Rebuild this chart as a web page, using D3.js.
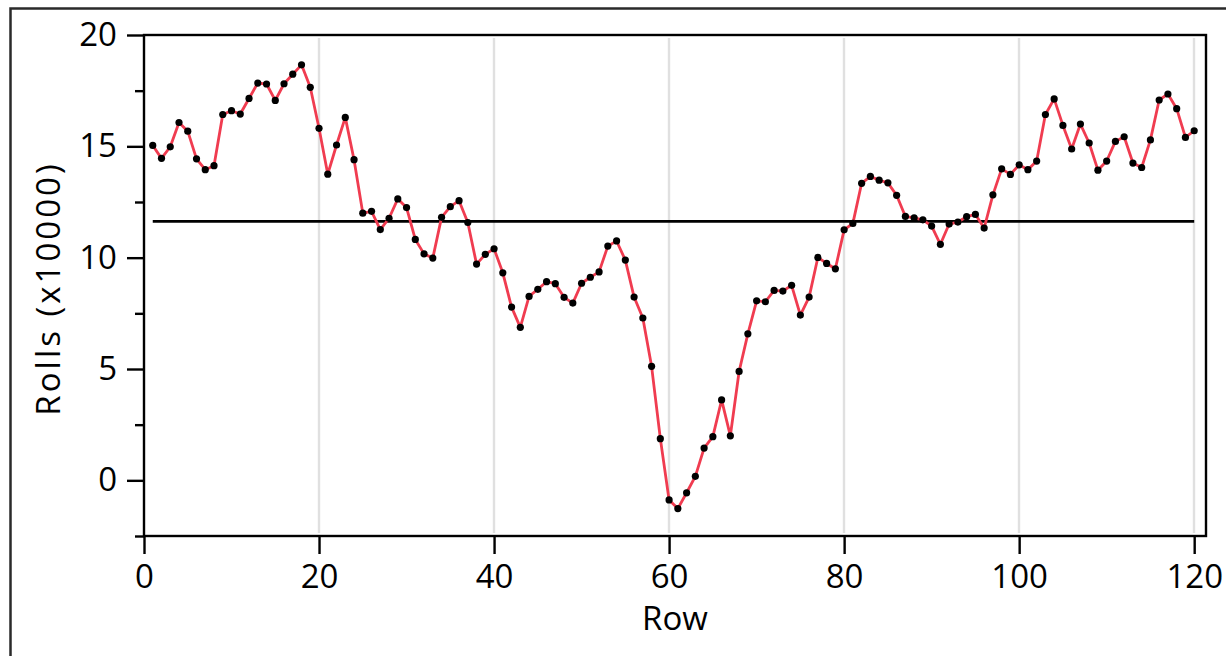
<!DOCTYPE html>
<html>
<head>
<meta charset="utf-8">
<script src="https://cdn.jsdelivr.net/npm/d3@7"></script>
<style>
  html, body { margin: 0; padding: 0; background: #fff; }
  svg { display: block; }
  text { font-family: "Open Sans", "Noto Sans", sans-serif; fill: #000; }
</style>
</head>
<body>
<svg id="chart" width="1226" height="656"></svg>
<script>
// ---- data ----
const rows = d3.range(1, 121);
const rolls = [
  15.04, 14.46, 14.98, 16.07, 15.68, 14.44, 13.95, 14.13, 16.43, 16.60,
  16.45, 17.15, 17.84, 17.80, 17.06, 17.81, 18.24, 18.66, 17.65, 15.81,
  13.75, 15.06, 16.30, 14.40, 12.00, 12.08, 11.26, 11.77, 12.64, 12.25,
  10.82, 10.17, 9.98, 11.81, 12.29, 12.56, 11.58, 9.71, 10.15, 10.40,
  9.32, 7.78, 6.87, 8.26, 8.58, 8.92, 8.83, 8.22, 7.96, 8.85,
  9.12, 9.36, 10.52, 10.75, 9.89, 8.23, 7.29, 5.12, 1.87, -0.88,
  -1.27, -0.56, 0.18, 1.45, 1.96, 3.61, 2.00, 4.89, 6.58, 8.06,
  8.02, 8.53, 8.50, 8.76, 7.42, 8.23, 10.01, 9.74, 9.50, 11.25,
  11.54, 13.34, 13.65, 13.48, 13.36, 12.80, 11.85, 11.79, 11.70, 11.42,
  10.60, 11.51, 11.60, 11.84, 11.94, 11.33, 12.82, 13.99, 13.74, 14.17,
  13.95, 14.34, 16.43, 17.13, 15.94, 14.88, 16.00, 15.15, 13.93, 14.34,
  15.22, 15.43, 14.25, 14.05, 15.29, 17.08, 17.35, 16.69, 15.40, 15.70
];
const meanValue = 11.63;
const xTicks = [0, 20, 40, 60, 80, 100, 120];
const xGrid = [20, 40, 60, 80, 100, 120];
const yTicks = [0, 5, 10, 15, 20];
const yMinorTicks = [-2.5, 2.5, 7.5, 12.5, 17.5];
const xTitle = "Row";
const yTitle = "Rolls (x10000)";

// ---- layout ----
const L = 144, T = 35, R = 1206, B = 536;
const svg = d3.select("#chart");

// outer frame
svg.append("rect")
  .attr("x", 10.5).attr("y", 8.5).attr("width", 1400).attr("height", 800)
  .attr("fill", "none").attr("stroke", "#2a2a2a").attr("stroke-width", 2.5);

const x = d3.scaleLinear().domain([0, 121.35]).range([L, R]);
const y = d3.scaleLinear().domain([-2.5, 20]).range([B, T]);

// gridlines
svg.append("g").selectAll("line").data(xGrid).join("line")
  .attr("x1", d => Math.round(x(d))).attr("x2", d => Math.round(x(d)))
  .attr("y1", T + 3).attr("y2", B - 3)
  .attr("stroke", "#e0e0e0").attr("stroke-width", 2.4);

// mean line
svg.append("line")
  .attr("x1", x(1)).attr("x2", x(120))
  .attr("y1", y(meanValue)).attr("y2", y(meanValue))
  .attr("stroke", "#000").attr("stroke-width", 2.6);

// series line
const line = d3.line().x((d, i) => x(rows[i])).y(d => y(d));
svg.append("path").datum(rolls)
  .attr("d", line).attr("fill", "none")
  .attr("stroke", "#f03c50").attr("stroke-width", 2.8)
  .attr("stroke-linejoin", "round");

// points
svg.append("g").selectAll("circle").data(rolls).join("circle")
  .attr("cx", (d, i) => x(rows[i])).attr("cy", d => y(d))
  .attr("r", 3.6).attr("fill", "#000");

// plot frame
svg.append("rect")
  .attr("x", L).attr("y", T).attr("width", R - L).attr("height", B - T)
  .attr("fill", "none").attr("stroke", "#000").attr("stroke-width", 2.4);

// axes
const styleAxis = g => {
  g.select(".domain").remove();
  g.selectAll(".tick line").attr("stroke", "#000").attr("stroke-width", 2.4);
  g.selectAll(".tick text").style("font-size", "33px")
    .style("font-family", '"Open Sans", "Noto Sans", sans-serif').attr("fill", "#000");
};

svg.append("g").attr("transform", `translate(${L},0)`)
  .call(d3.axisLeft(y).tickValues(yTicks).tickSize(17).tickPadding(10).tickFormat(d3.format("d")))
  .call(styleAxis);

svg.append("g").attr("transform", `translate(${L},0)`)
  .call(d3.axisLeft(y).tickValues(yMinorTicks).tickSize(9).tickFormat(""))
  .call(styleAxis);

svg.append("g").attr("transform", `translate(0,${B})`)
  .call(d3.axisBottom(x).tickValues(xTicks).tickSize(18).tickPadding(11).tickFormat(d3.format("d")))
  .call(styleAxis);

// titles
svg.append("text")
  .attr("x", (L + R) / 2).attr("y", 630)
  .attr("text-anchor", "middle").style("font-size", "33px")
  .text(xTitle);

svg.append("text")
  .attr("transform", `translate(60,${(T + B) / 2 + 3}) rotate(-90)`)
  .attr("text-anchor", "middle").style("font-size", "33px")
  .style("letter-spacing", "3px")
  .text(yTitle);
</script>
</body>
</html>
